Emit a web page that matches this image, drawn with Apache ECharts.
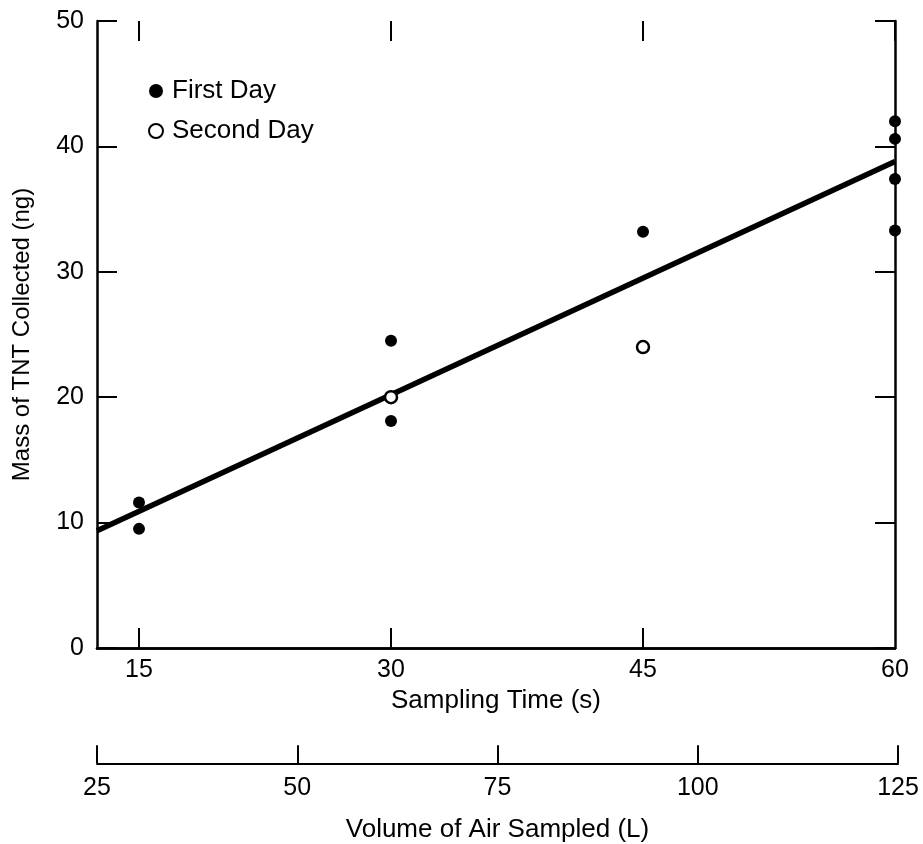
<!DOCTYPE html>
<html>
<head>
<meta charset="utf-8">
<script src="https://cdn.jsdelivr.net/npm/echarts@6/dist/echarts.min.js"></script>
<style>
  html, body { margin: 0; padding: 0; background: #fff; }
  #chart { width: 923px; height: 844px; }
</style>
</head>
<body>
<div id="chart"></div>
<script>
// sampling time (s), mass of TNT (ng)
var firstDay = [
  [15, 11.6], [15, 9.5],
  [30, 24.5], [30, 18.1],
  [45, 33.2],
  [60, 42.0], [60, 40.6], [60, 37.4], [60, 33.3]
];
var secondDay = [[30, 20.0], [45, 24.0]];
// fitted line, ends
var fitLine = [[12.5, 9.35], [60, 38.8]];

var timeTicks = [15, 30, 45, 60];
var timeInnerTicks = [15, 30, 45];

var font = "'Liberation Sans', Arial, sans-serif";
var black = "#000";

var chart = echarts.init(document.getElementById("chart"));

chart.setOption({
  animation: false,
  textStyle: { fontFamily: font, color: black },
  grid: [
    { left: 97, right: 28, top: 21, bottom: 196 },
    { left: 97, right: 25, bottom: 80, height: 1 },
    // strip above the frame: its bottom axis gives the downward ticks of the top edge
    { left: 139, right: 28, top: 1, height: 20 }
  ],
  legend: {
    orient: "vertical",
    left: 143,
    top: 73,
    itemWidth: 14,
    itemHeight: 14,
    itemGap: 14,
    textStyle: { fontSize: 26, color: black, fontFamily: font, padding: [0, 0, 0, 4] },
    data: ["First Day", "Second Day"]
  },
  xAxis: [
    {
      type: "value",
      gridIndex: 0,
      min: 12.5,
      max: 60,
      name: "Sampling Time (s)",
      nameLocation: "middle",
      nameGap: 30,
      nameTextStyle: { fontSize: 26, color: black },
      axisLine: { show: true, lineStyle: { color: black, width: 2.5 } },
      axisTick: { inside: true, length: 20, customValues: timeInnerTicks, lineStyle: { color: black, width: 2 } },
      axisLabel: { customValues: timeTicks, fontSize: 25, color: black, margin: 10 },
      splitLine: { show: false }
    },
    {
      type: "value",
      gridIndex: 0,
      position: "top",
      min: 12.5,
      max: 60,
      axisLine: { show: true, lineStyle: { color: black, width: 2.5 } },
      axisTick: { show: false },
      axisLabel: { show: false },
      splitLine: { show: false }
    },
    {
      type: "value",
      gridIndex: 1,
      min: 25,
      max: 125,
      interval: 25,
      name: "Volume of Air Sampled (L)",
      nameLocation: "middle",
      nameGap: 54,
      nameTextStyle: { fontSize: 26, color: black },
      axisLine: { show: true, lineStyle: { color: black, width: 2 } },
      axisTick: { inside: true, length: 18, lineStyle: { color: black, width: 2 } },
      axisLabel: { fontSize: 25, color: black, margin: 12 },
      splitLine: { show: false }
    },
    {
      type: "value",
      gridIndex: 2,
      position: "bottom",
      min: 15,
      max: 60,
      interval: 15,
      axisLine: { show: false },
      axisTick: { inside: false, length: 20, lineStyle: { color: black, width: 2 } },
      axisLabel: { show: false },
      splitLine: { show: false }
    }
  ],
  yAxis: [
    {
      type: "value",
      gridIndex: 0,
      min: 0,
      max: 50,
      interval: 10,
      name: "Mass of TNT Collected (ng)",
      nameLocation: "middle",
      nameGap: 63,
      nameTextStyle: { fontSize: 24, color: black },
      axisLine: { show: true, lineStyle: { color: black, width: 2.5 } },
      axisTick: { inside: true, length: 20, lineStyle: { color: black, width: 2 } },
      axisLabel: { fontSize: 25, color: black, margin: 13 },
      splitLine: { show: false }
    },
    {
      type: "value",
      gridIndex: 0,
      position: "right",
      min: 0,
      max: 50,
      interval: 10,
      axisLine: { show: true, lineStyle: { color: black, width: 2.5 } },
      axisTick: { inside: true, length: 20, lineStyle: { color: black, width: 2 } },
      axisLabel: { show: false },
      splitLine: { show: false }
    },
    {
      type: "value",
      gridIndex: 1,
      show: false,
      min: 0,
      max: 1
    },
    {
      type: "value",
      gridIndex: 2,
      show: false,
      min: 0,
      max: 1
    }
  ],
  series: [
    {
      name: "fit",
      type: "line",
      xAxisIndex: 0,
      yAxisIndex: 0,
      data: fitLine,
      symbol: "none",
      lineStyle: { color: black, width: 5.5 },
      z: 2
    },
    {
      name: "First Day",
      type: "scatter",
      xAxisIndex: 0,
      yAxisIndex: 0,
      data: firstDay,
      symbol: "circle",
      symbolSize: 12,
      itemStyle: { color: black, opacity: 1 },
      z: 3
    },
    {
      name: "Second Day",
      type: "scatter",
      xAxisIndex: 0,
      yAxisIndex: 0,
      data: secondDay,
      symbol: "circle",
      symbolSize: 12,
      itemStyle: { color: "#fff", borderColor: black, borderWidth: 2.5, opacity: 1 },
      z: 3
    }
  ]
});
</script>
</body>
</html>
